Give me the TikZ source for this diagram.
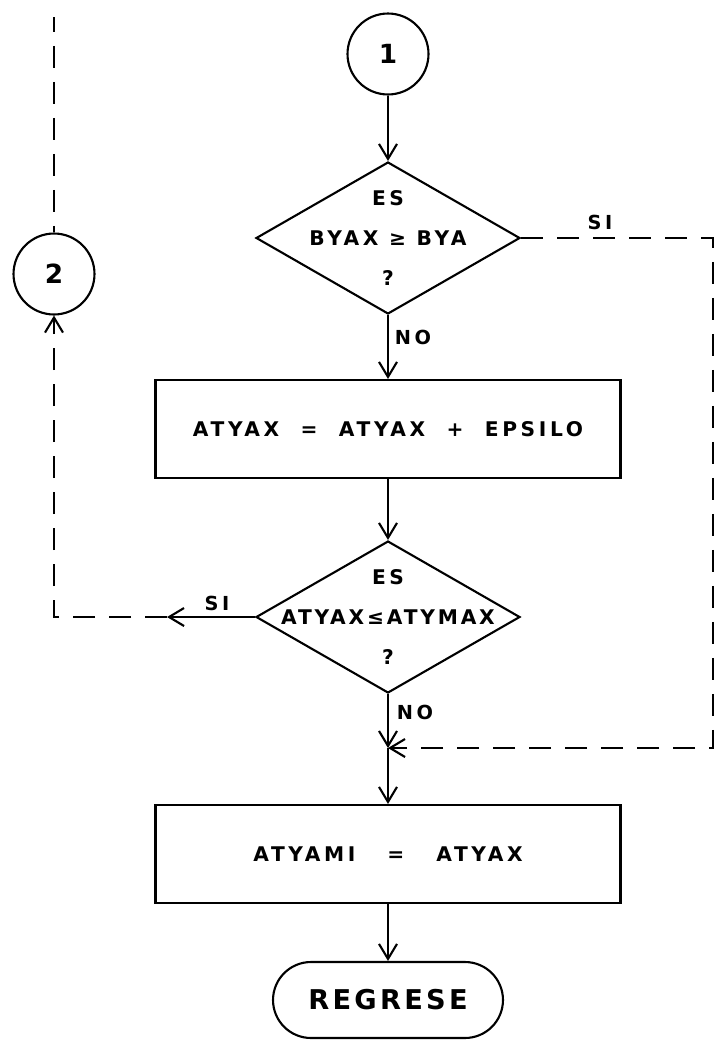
\documentclass[tikz,border=0pt]{standalone}
\usepackage{fontspec}
\newfontfamily\lettering{DejaVu Sans}[LetterSpace=18]
\usetikzlibrary{shapes.geometric,arrows.meta}

\begin{document}
\begin{tikzpicture}[x=0.02cm,y=-0.02cm]
\tikzstyle{connector} = [draw,circle,line width=1.2pt,minimum size=1.62cm,inner sep=0pt,font=\lettering\bfseries\fontsize{15}{18}\selectfont]
\tikzstyle{decision} = [draw,diamond,line width=1.2pt,minimum width=5.28cm,minimum height=3.04cm,inner sep=0pt]
\tikzstyle{process} = [draw,rectangle,line width=1.2pt,minimum width=9.3cm,minimum height=1.96cm,font=\lettering\bfseries\fontsize{11.5}{14}\selectfont]
\tikzstyle{terminal} = [draw,rectangle,rounded corners=0.76cm,line width=1.2pt,minimum width=4.6cm,minimum height=1.52cm,font=\lettering\bfseries\fontsize{15.5}{18}\selectfont\addfontfeature{LetterSpace=12}]
\tikzstyle{question} = [align=center,font=\lettering\bfseries\fontsize{11.5}{22.5}\selectfont]
\tikzstyle{answer} = [inner sep=1pt,font=\lettering\bfseries\fontsize{11}{13}\selectfont]
\tikzstyle{flow} = [line width=1.2pt,-{Straight Barb[length=0.3cm,width=0.36cm]}]
\tikzstyle{jump} = [flow,dash pattern=on 0.44cm off 0.28cm]

\useasboundingbox (0,0) rectangle (717,1041);

% main column
\node[connector] (c1) at (388,54) {1};
\node[decision] (d1) at (388,238) {};
\node[question] (q1) at (d1) {ES\\BYAX ≥ BYA\\?};
\node[process] (b1) at (388,429) {ATYAX \ = \ ATYAX \ + \ EPSILO};
\node[decision] (d2) at (388,617) {};
\node[question] (q2) at (d2) {ES\\{\addfontfeature{LetterSpace=14}ATYAX≤ATYMAX}\\?};
\node[process] (b2) at (388,854) {ATYAMI \ \ = \ \ ATYAX};
\node[terminal] (t1) at (388,1000) {REGRESE};

% off-page connector on the left
\node[connector] (c2) at (54,274) {2};

\coordinate (top2) at (54,17);
\coordinate (a2) at (167,617);
\coordinate (r1) at (713,238);
\coordinate (r2) at (713,748);
\coordinate (j) at (388,748);

\draw[flow] (c1) -- (d1);
\draw[flow] (d1) -- (b1);
\draw[flow] (b1) -- (d2);
\draw[flow] (d2) -- (j);
\draw[flow] (j) -- (b2);
\draw[flow] (b2) -- (t1);

% SI branches
\draw[flow] (d2.west) -- (a2);
\draw[jump] (a2) -| (c2);
\draw[jump,-,dash phase=0.14cm] (top2) -- (c2);
\draw[jump] (d1.east) -- (r1) -- (r2) -- (j);

\node[answer] (si1) at (600,222) {SI};
\node[answer] (no1) at (413,337) {NO};
\node[answer] (si2) at (217,603) {SI};
\node[answer] (no2) at (415,712) {NO};

\end{tikzpicture}
\end{document}
